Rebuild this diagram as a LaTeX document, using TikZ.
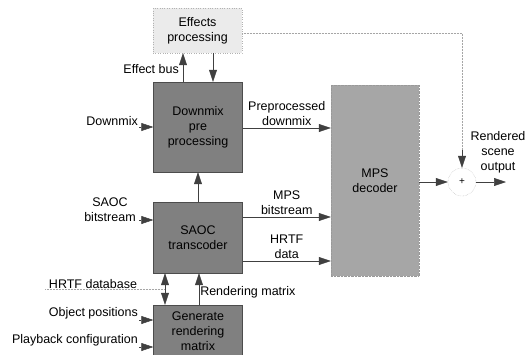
\documentclass[tikz,border=0pt]{standalone}
\usepackage{fontspec}
\setmainfont{Liberation Sans}
\usetikzlibrary{arrows.meta}

\tikzstyle{block}=[draw=black!70,fill=black!50,minimum width=89pt,align=center,inner sep=0pt,font=\fontsize{12.5}{15}\selectfont]
\tikzstyle{softblock}=[block,draw=black!40,densely dotted,fill=black!35]
\tikzstyle{faintblock}=[block,draw=black!30,dotted,fill=black!8]
\tikzstyle{lbl}=[align=center,inner sep=1pt,font=\fontsize{12.5}{15}\selectfont]
\tikzstyle{link}=[draw=black!75,line width=0.5pt,-{Triangle[length=12pt,width=8pt]}]
\tikzstyle{faint}=[draw=black!35,densely dotted,line width=0.5pt]

\begin{document}
\begin{tikzpicture}[x=1pt,y=-1pt]

   \useasboundingbox (0,0) rectangle (528,354);

   % Processing blocks

   \node[faintblock,minimum height=45pt] (fx) at (197.5,30.5) {Effects\\processing};
   \node[block,minimum height=90pt] (dmx) at (198,127) {Downmix\\pre\\processing};
   \node[block,minimum height=71pt] (saoc) at (198,237.5) {SAOC\\transcoder};
   \node[block,minimum height=52pt] (gen) at (198,331) {Generate\\rendering\\matrix};
   \node[softblock,minimum width=88pt,minimum height=191pt] (mps) at (375,180.5) {MPS\\decoder};
   \node[circle,draw=black!35,densely dotted,minimum size=28pt,inner sep=0pt] (sum) at (462,182) {+};

   % Inputs

   \coordinate (dmxin) at (139,127);
   \coordinate (saocin) at (139,220);
   \coordinate (hrtfin) at (45,289);
   \coordinate (hrtfjn) at (165,289);
   \coordinate (objin) at (139,320);
   \coordinate (playin) at (139,347);
   \coordinate (out) at (506,182);
   \coordinate (fxturn) at (462,33);

   \node[lbl,anchor=south east] (dmxlbl) at (dmxin) {Downmix};
   \node[lbl,anchor=south] (saoclbl) at (110,223) {SAOC\\bitstream};
   \node[lbl,anchor=south] (hrtflbl) at (93,290) {HRTF database};
   \node[lbl,anchor=south east] (objlbl) at (objin) {Object positions};
   \node[lbl,anchor=south east] (playlbl) at (playin) {Playback configuration};

   \draw[link] (dmxin) -- (dmxin -| dmx.west);
   \draw[link] (saocin) -- (saocin -| saoc.west);
   \draw[link] (objin) -- (objin -| gen.west);
   \draw[link] (playin) -- (playin -| gen.west);
   \draw[faint] (hrtfin) -- (hrtfjn);

   % Effect bus

   \draw[link] (dmx.north -| 183,0) -- (fx.south -| 183,0);
   \draw[link] (fx.south -| 213,0) -- (dmx.north -| 213,0);
   \node[lbl,anchor=east] (buslbl) at (180,69) {Effect bus};

   % Between blocks

   \draw[link] (saoc.north) -- (dmx.south);
   \draw[link,{Triangle[length=12pt,width=8pt]}-{Triangle[length=12pt,width=8pt]}] (gen.north -| hrtfjn) -- (saoc.south -| hrtfjn);
   \draw[link] (gen.north -| 199,0) -- (saoc.south -| 199,0)
      node[lbl,anchor=west,pos=0.4] (rmlbl) {Rendering matrix};

   \draw[link] (dmx.east |- 0,128) -- (mps.west |- 0,128)
      node[lbl,midway,above=1pt] (ppdlbl) {Preprocessed\\downmix};
   \draw[link] (saoc.east |- 0,217) -- (mps.west |- 0,217)
      node[lbl,midway,above=1pt] (mpsbslbl) {MPS\\bitstream};
   \draw[link] (saoc.east |- 0,261) -- (mps.west |- 0,261)
      node[lbl,midway,above=1pt] (hrtfdlbl) {HRTF\\data};

   % Output

   \draw[link] (mps.east |- sum) -- (sum.west);
   \draw[link] (sum.east) -- (out);
   \node[lbl,anchor=south] (outlbl) at (498,174) {Rendered\\scene\\output};
   \draw[faint] (fx.east |- fxturn) -- (fxturn) -- (462,150);
   \draw[link] (462,150) -- (sum.north);

\end{tikzpicture}
\end{document}
